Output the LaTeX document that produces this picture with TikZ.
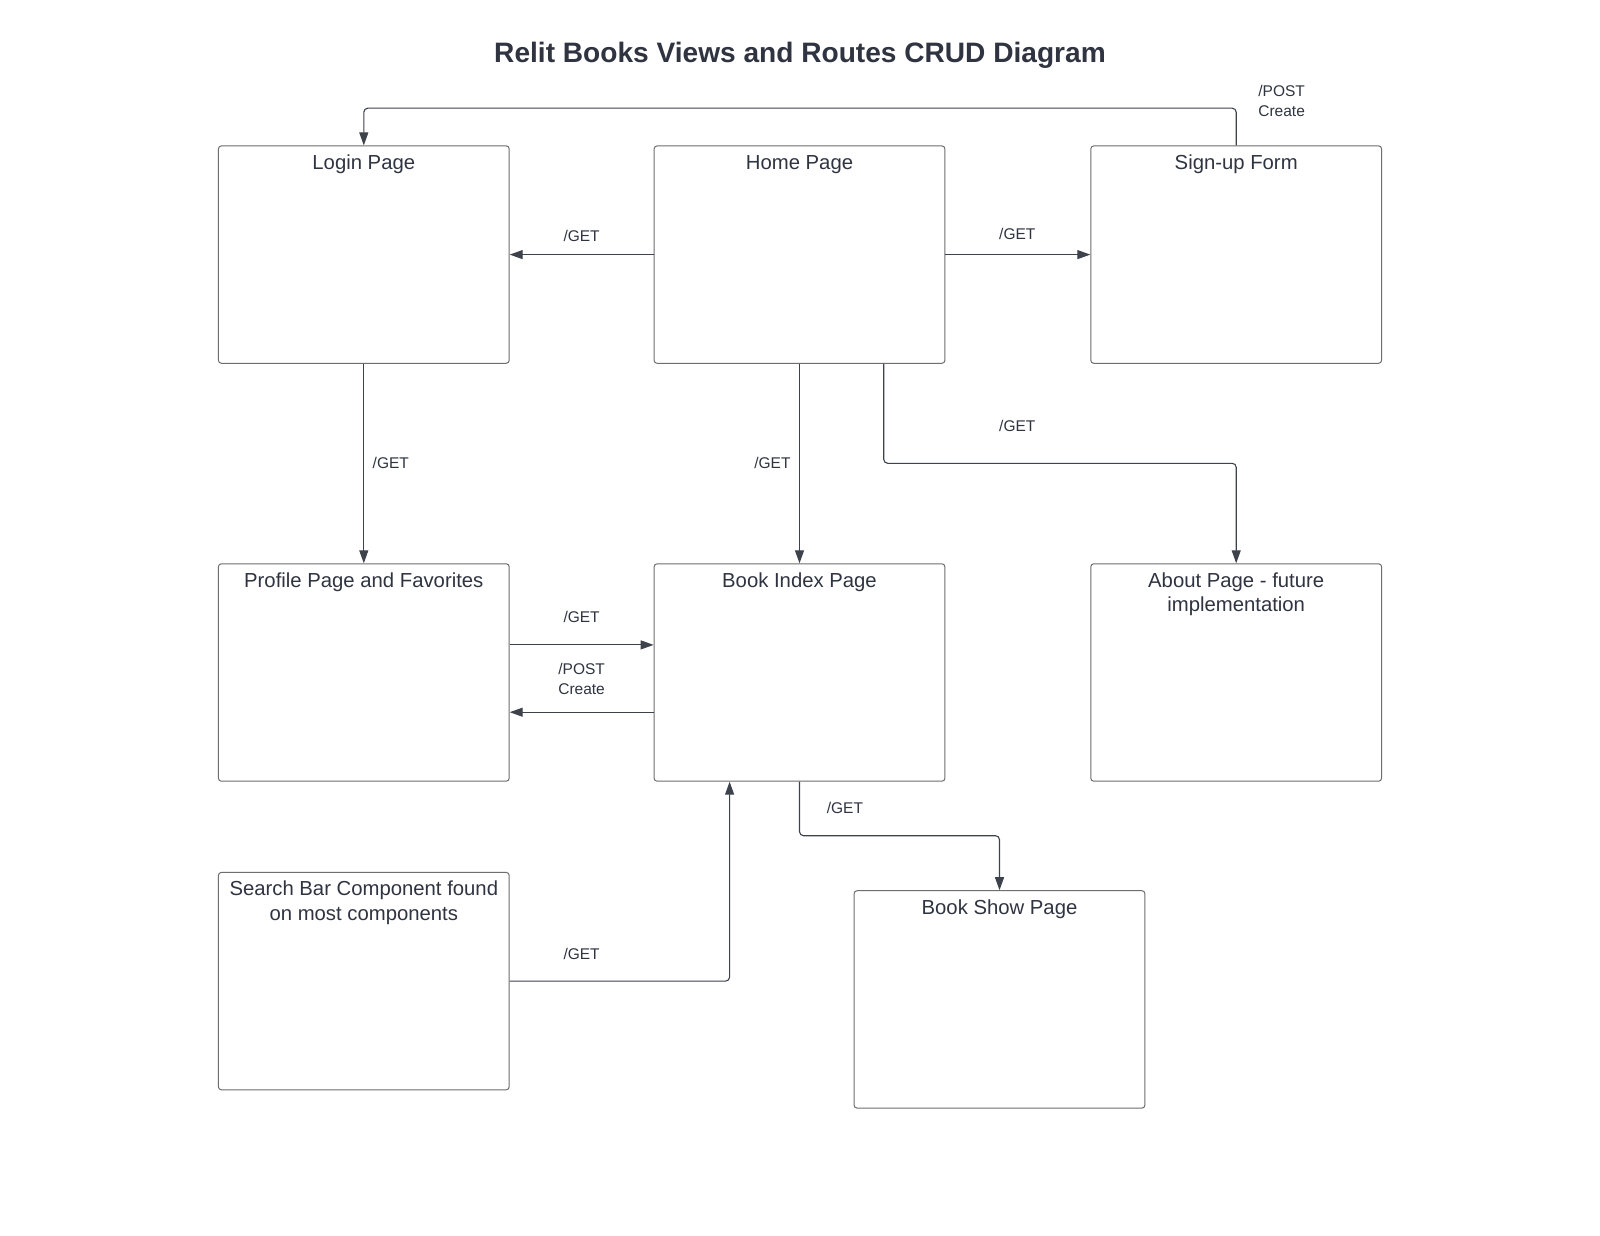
\documentclass[tikz,border=0pt]{standalone}
\usepackage{fontspec}
\setmainfont{Liberation Sans}
\usetikzlibrary{arrows.meta}
\definecolor{boxgray}{HTML}{6E6E6E}
\definecolor{linegray}{HTML}{3E424B}
\definecolor{txt}{HTML}{2F3440}
\tikzset{
  x=1pt,y=-1pt,
  pagebox/.style={draw=boxgray, line width=1pt, rounded corners=3pt, minimum width=290.8pt, minimum height=217.4pt, inner sep=0pt},
  boxtitle/.style={anchor=north, inner sep=0pt, align=center, text=txt, font={\fontsize{20.3}{24.5}\selectfont}},
  onetitle/.style={anchor=base, inner sep=0pt, text=txt, font={\fontsize{20.3}{24.5}\selectfont}},
  elabel/.style={inner sep=0pt, align=center, text=txt, font={\fontsize{15.5}{20}\selectfont}},
  conn/.style={draw=linegray, line width=1.1pt, rounded corners=4pt, -{Triangle[length=13pt,width=9pt]}},
}
\begin{document}
\begin{tikzpicture}
\useasboundingbox (0,0) rectangle (1600,1236);
\fill[white] (0,0) rectangle (1600,1236);

\node[text=txt, font={\fontsize{28.1}{34}\selectfont\bfseries}, inner sep=0pt] (title) at (800,55) {Relit Books Views and Routes CRUD Diagram};

\node[pagebox] (login)   at (363.8,254.6) {};
\node[pagebox] (home)    at (799.5,254.6) {};
\node[pagebox] (signup)  at (1236.2,254.6) {};
\node[pagebox] (profile) at (363.8,672.5) {};
\node[pagebox] (index)   at (799.5,672.5) {};
\node[pagebox] (about)   at (1236.2,672.5) {};
\node[pagebox] (search)  at (363.8,981.1) {};
\node[pagebox] (show)    at (999.5,999.4) {};

\node[onetitle] (tlogin)   at ([yshift=-24pt]login.north) {Login Page};
\node[onetitle] (thome)    at ([yshift=-24pt]home.north) {Home Page};
\node[onetitle] (tsignup)  at ([yshift=-24pt]signup.north) {Sign-up Form};
\node[onetitle] (tprofile) at ([yshift=-24pt]profile.north) {Profile Page and Favorites};
\node[onetitle] (tindex)   at ([yshift=-24pt]index.north) {Book Index Page};
\node[boxtitle] (tabout)   at ([yshift=-9pt]about.north) {About Page - future\\implementation};
\node[boxtitle] (tsearch)  at ([yshift=-9pt]search.north) {Search Bar Component found\\on most components};
\node[onetitle] (tshow)    at ([yshift=-24pt]show.north) {Book Show Page};

% connectors
\draw[conn] (signup.north) -- (1236.2,108.2) -- (363.8,108.2) -- (login.north);
\draw[conn] (home.west) -- (login.east);
\draw[conn] (home.east) -- (signup.east -| signup.west);
\draw[conn] (login.south) -- (profile.north);
\draw[conn] (home.south) -- (index.north);
\draw[conn] (home.south -| 883.7,0) -- (883.7,463.3) -- (1236.2,463.3) -- (about.north);
\draw[conn] (profile.east |- 0,644.9) -- (index.west |- 0,644.9);
\draw[conn] (index.west |- 0,712.2) -- (profile.east |- 0,712.2);
\draw[conn] (index.south) -- (799.5,835.7) -- (999.5,835.7) -- (show.north);
\draw[conn] (search.east) -- (729.6,981.1) -- (index.south -| 729.6,0);

% labels
\node[elabel] (l1) at (1281.6,101) {/POST\\Create};
\node[elabel] (l2) at (581.6,235.5) {/GET};
\node[elabel] (l3) at (1017.3,233.5) {/GET};
\node[elabel] (l4) at (390.8,463) {/GET};
\node[elabel] (l5) at (772.4,463) {/GET};
\node[elabel] (l6) at (1017.3,426.3) {/GET};
\node[elabel] (l7) at (581.6,617) {/GET};
\node[elabel] (l8) at (581.6,679) {/POST\\Create};
\node[elabel] (l9) at (844.9,808) {/GET};
\node[elabel] (l10) at (581.6,954) {/GET};
\end{tikzpicture}
\end{document}
